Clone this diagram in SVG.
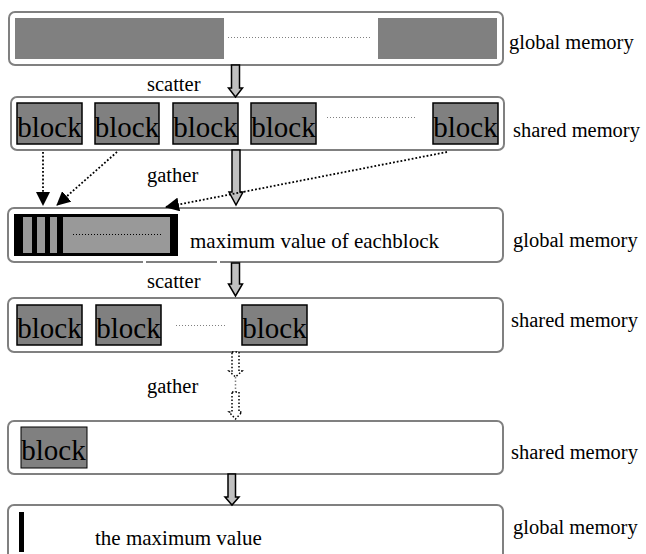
<svg xmlns="http://www.w3.org/2000/svg" width="646" height="554" viewBox="0 0 646 554">
<defs>
<style>
.box{fill:#fff;stroke:#808080;stroke-width:2}
.blk{fill:#808080;stroke:#000;stroke-width:1.5}
.bt{font-family:'Liberation Serif','Times New Roman','DejaVu Serif',serif;font-size:29px;fill:#000;text-anchor:middle}
.lbl{font-family:'Liberation Serif','Times New Roman','DejaVu Serif',serif;font-size:20.5px;fill:#000}
.dots{stroke:#808080;stroke-width:1;stroke-dasharray:1 2;fill:none}
.garrow{fill:#c0c0c0;stroke:#000;stroke-width:1.5}
.darrow{fill:#fff;stroke:#000;stroke-width:1.5;stroke-dasharray:1.5 2}
.gline{stroke:#000;stroke-width:1.8;stroke-dasharray:1.8 2;fill:none}
</style>
<marker id="ah" viewBox="0 0 14 14" refX="13" refY="7" markerWidth="14" markerHeight="14" markerUnits="userSpaceOnUse" orient="auto">
<path d="M0,0 L14,7 L0,14 z" fill="#000"/>
</marker>
</defs>

<g id="row1">
<rect class="box" x="9" y="12" width="494" height="53" rx="6"/>
<rect x="15" y="18" width="209" height="41" fill="#808080"/>
<rect x="378" y="18" width="119" height="41" fill="#808080"/>
<line class="dots" x1="228" y1="37.5" x2="370" y2="37.5"/>
<text class="lbl" x="509" y="49">global memory</text>
</g>

<g id="row2">
<rect class="box" x="11" y="97" width="493" height="53" rx="6"/>
<rect class="blk" x="17" y="103" width="65" height="41"/><text class="bt" x="49.5" y="137">block</text>
<rect class="blk" x="95" y="103" width="64" height="41"/><text class="bt" x="127" y="137">block</text>
<rect class="blk" x="173" y="103" width="65" height="41"/><text class="bt" x="205.5" y="137">block</text>
<rect class="blk" x="251" y="103" width="65" height="41"/><text class="bt" x="283.5" y="137">block</text>
<line class="dots" x1="327" y1="117.5" x2="417" y2="117.5"/>
<rect class="blk" x="433" y="103" width="65" height="41"/><text class="bt" x="465.5" y="137">block</text>
<text class="lbl" x="513" y="137">shared memory</text>
</g>

<g id="row3">
<rect class="box" x="8" y="208" width="495" height="54" rx="6"/>
<rect x="14" y="214" width="164" height="42" fill="#000"/>
<rect x="23" y="217" width="9" height="36" fill="#999"/>
<rect x="37" y="217" width="8" height="36" fill="#999"/>
<rect x="50" y="217" width="7" height="36" fill="#999"/>
<rect x="63" y="217" width="107" height="36" fill="#999"/>
<line x1="73" y1="234.5" x2="163" y2="234.5" stroke="#000" stroke-width="1" stroke-dasharray="1 2"/>
<text class="lbl" x="190" y="248" style="font-size:21px">maximum value of eachblock</text>
<rect x="143" y="261" width="3" height="3" fill="#fff"/>
<rect x="217" y="261" width="3" height="3" fill="#fff"/>
<text class="lbl" x="513" y="247">global memory</text>
</g>

<g id="row4">
<rect class="box" x="8" y="298" width="495" height="54" rx="6"/>
<rect class="blk" x="17" y="305" width="65" height="40"/><text class="bt" x="49.5" y="338">block</text>
<rect class="blk" x="96" y="305" width="65" height="40"/><text class="bt" x="128.5" y="338">block</text>
<line class="dots" x1="176" y1="325.5" x2="227" y2="325.5"/>
<rect class="blk" x="242" y="305" width="65" height="40"/><text class="bt" x="274.5" y="338">block</text>
<text class="lbl" x="511" y="327">shared memory</text>
</g>

<g id="row5">
<rect class="box" x="8" y="421" width="495" height="53" rx="6"/>
<rect class="blk" x="21" y="427" width="66" height="41" style="stroke-width:1"/><text class="bt" x="53.5" y="460">block</text>
<text class="lbl" x="511" y="459">shared memory</text>
</g>

<g id="row6">
<rect class="box" x="8" y="505" width="495" height="60" rx="6"/>
<rect x="19" y="512" width="5" height="40" fill="#000"/>
<text class="lbl" x="95" y="545" style="font-size:21px">the maximum value</text>
<text class="lbl" x="513" y="534">global memory</text>
</g>

<g id="connectors">
<polygon class="garrow" points="231.5,65 239.5,65 239.5,88 242.5,88 235.5,97 228.5,88 231.5,88"/>
<text class="lbl" x="147" y="91">scatter</text>
<polygon class="garrow" points="232,150 240,150 240,192 243,192 236,205 229,192 232,192"/>
<line class="gline" x1="43" y1="152" x2="43" y2="205" marker-end="url(#ah)"/>
<line class="gline" x1="117" y1="152" x2="57" y2="205" marker-end="url(#ah)"/>
<line class="gline" x1="447" y1="152" x2="166" y2="207" marker-end="url(#ah)"/>
<text class="lbl" x="147" y="182">gather</text>
<polygon class="garrow" points="231.5,263 239.5,263 239.5,284 242.5,284 235.5,296 228.5,284 231.5,284"/>
<text class="lbl" x="147" y="288">scatter</text>
<polygon class="darrow" points="232,352 239,352 239,371 242,371 235.5,377 229,371 232,371"/>
<line x1="235.5" y1="377" x2="235.5" y2="392" stroke="#808080" stroke-width="1.5" stroke-dasharray="1.5 2"/>
<polygon class="darrow" points="232,392 239,392 239,412 242,412 235.5,419 229,412 232,412"/>
<text class="lbl" x="147" y="393">gather</text>
<polygon class="garrow" points="228,474 235.5,474 235.5,497 239,497 232,505 225,497 228,497"/>
</g>
</svg>
